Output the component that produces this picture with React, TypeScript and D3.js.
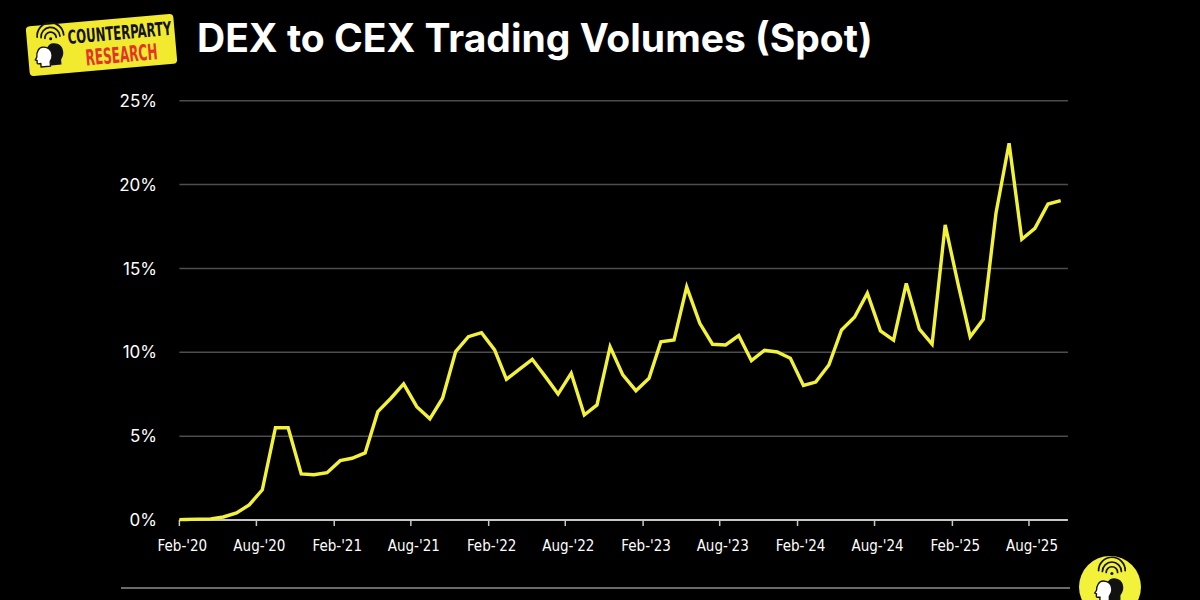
import React, { useEffect } from "react";
import * as d3 from "d3";

// ---------- DATA ----------
const months: string[] = [
  "2020-01","2020-02","2020-03","2020-04","2020-05","2020-06","2020-07","2020-08","2020-09","2020-10","2020-11","2020-12",
  "2021-01","2021-02","2021-03","2021-04","2021-05","2021-06","2021-07","2021-08","2021-09","2021-10","2021-11","2021-12",
  "2022-01","2022-02","2022-03","2022-04","2022-05","2022-06","2022-07","2022-08","2022-09","2022-10","2022-11","2022-12",
  "2023-01","2023-02","2023-03","2023-04","2023-05","2023-06","2023-07","2023-08","2023-09","2023-10","2023-11","2023-12",
  "2024-01","2024-02","2024-03","2024-04","2024-05","2024-06","2024-07","2024-08","2024-09","2024-10","2024-11","2024-12",
  "2025-01","2025-02","2025-03","2025-04","2025-05","2025-06","2025-07","2025-08","2025-09","2025-10",
];

// DEX / CEX spot volume ratio, %
const dexToCex: number[] = [
  0.02, 0.03, 0.05, 0.07, 0.18, 0.42, 0.9, 1.8, 5.5, 5.5, 2.75, 2.7,
  2.82, 3.54, 3.68, 4.0, 6.46, 7.26, 8.12, 6.76, 6.03, 7.26, 10.04, 10.93,
  11.17, 10.14, 8.39, 9.0, 9.58, 8.55, 7.51, 8.75, 6.26, 6.86, 10.33, 8.65,
  7.71, 8.45, 10.63, 10.73, 13.9, 11.73, 10.48, 10.44, 11.0, 9.5, 10.12, 10.02,
  9.64, 8.02, 8.22, 9.24, 11.33, 12.1, 13.52, 11.28, 10.73, 14.11, 11.38, 10.49,
  17.59, 14.01, 10.93, 11.97, 18.29, 22.46, 16.74, 17.39, 18.84, 19.04,
];

const xTickDates: string[] = [
  "2020-02","2020-08","2021-02","2021-08","2022-02","2022-08",
  "2023-02","2023-08","2024-02","2024-08","2025-02","2025-08",
];
const xTickLabels: string[] = [
  "Feb-'20","Aug-'20","Feb-'21","Aug-'21","Feb-'22","Aug-'22",
  "Feb-'23","Aug-'23","Feb-'24","Aug-'24","Feb-'25","Aug-'25",
];
const yTicks: number[] = [0, 5, 10, 15, 20, 25];

const titleText = "DEX to CEX Trading Volumes (Spot)";

// ---------- HELPERS ----------
const parseMonth = (s: string, day: number) => {
  const [y, m] = s.split("-").map(Number);
  return new Date(y, m - 1, day);
};

const YELLOW = "#f3f23b";

function HeadsIcon({ transform }: { transform: string }) {
  const head =
    "M10 0 C16 0 20 4 20 10 C20 14 18 16 17 18 L17 23 L6 23 L6 19 L3 19 C2 19 1.6 18 1.8 17 L2 15 L0 14 L2 11 C2 5 5 0 10 0 Z";
  return (
    <g transform={transform}>
      <g fill="none" stroke="#111" strokeWidth={1.8} strokeLinecap="round">
        <path d="M16 11 A6 6 0 0 1 28 11" />
        <path d="M12 10 A10 10 0 0 1 32 10" />
        <path d="M8 9 A14 14 0 0 1 36 9" />
      </g>
      <circle cx={22} cy={12} r={1.6} fill="#111" />
      <path d={head} transform="translate(14,17)" fill="#111" />
      <path d={head} transform="translate(4,20) scale(0.9)" fill="#fff" stroke="#111" strokeWidth={1.6} />
    </g>
  );
}

export default function App() {
  useEffect(() => {
    document.body.style.margin = "0";
    document.body.style.background = "#000";
  }, []);

  const W = 1200;
  const H = 600;
  const left = 179.4;
  const right = 1067.9;
  const top = 100.7;
  const bottom = 520;

  const x = d3
    .scaleTime()
    .domain([new Date(2020, 1, 1), new Date(2025, 10, 1)])
    .range([left, right]);
  const y = d3.scaleLinear().domain([0, 25]).range([bottom, top]);

  const points = months.map((m, i) => ({ d: parseMonth(m, 15), v: dexToCex[i] }));
  const line = d3
    .line<{ d: Date; v: number }>()
    .x((p) => x(p.d))
    .y((p) => y(p.v));

  const yFmt = (v: number) => `${v}%`;

  return (
    <svg
      width={W}
      height={H}
      viewBox={`0 0 ${W} ${H}`}
      style={{ display: "block", background: "#000" }}
      fontFamily="Inter, 'Noto Sans', sans-serif"
    >
      <rect x={0} y={0} width={W} height={H} fill="#000" />

      {/* top-left logo */}
      <g transform="translate(101.5,45) rotate(-5)">
        <rect x={-74} y={-25} width={148} height={50} rx={4} fill="#f2ea2e" />
        <HeadsIcon transform="translate(-71,-22) scale(0.95)" />
        <text
          x={-33}
          y={-4}
          fontFamily="'Liberation Sans Narrow', 'DejaVu Sans Condensed', sans-serif"
          fontWeight={700}
          fontSize={19}
          fill="#111"
          textLength={104}
          lengthAdjust="spacingAndGlyphs"
        >
          COUNTERPARTY
        </text>
        <text
          x={-17}
          y={19}
          fontFamily="'Liberation Sans Narrow', 'DejaVu Sans Condensed', sans-serif"
          fontWeight={700}
          fontSize={22}
          fill="#e3342b"
          textLength={72}
          lengthAdjust="spacingAndGlyphs"
        >
          RESEARCH
        </text>
      </g>

      {/* title */}
      <text x={197} y={52} fill="#fff" fontWeight={700} fontSize={39}>
        {titleText}
      </text>

      {/* gridlines */}
      {yTicks
        .filter((t) => t > 0)
        .map((t) => (
          <line key={t} x1={left} x2={right} y1={y(t)} y2={y(t)} stroke="#4d4d4d" strokeWidth={1.5} />
        ))}

      {/* y labels */}
      {yTicks.map((t) => (
        <text
          key={"yl" + t}
          x={157}
          y={y(t)}
          dy="0.36em"
          textAnchor="end"
          fill="#fff"
          fontSize={17}
        >
          {yFmt(t)}
        </text>
      ))}

      {/* baseline + ticks */}
      <line x1={left} x2={right} y1={bottom} y2={bottom} stroke="#c8c8c8" strokeWidth={2} />
      {xTickDates.map((s, i) => {
        const px = x(parseMonth(s, 1));
        return (
          <g key={s}>
            <line x1={px} x2={px} y1={bottom} y2={bottom + 6} stroke="#c8c8c8" strokeWidth={1.5} />
            <text
              x={px + 3}
              y={551}
              textAnchor="middle"
              fill="#fff"
              fontSize={15}
              fontFamily="'Liberation Sans Narrow', 'DejaVu Sans Condensed', sans-serif"
            >
              {xTickLabels[i]}
            </text>
          </g>
        );
      })}

      {/* data line */}
      <defs>
        <clipPath id="plot-clip">
          <rect x={left} y={0} width={right - left} height={H} />
        </clipPath>
      </defs>
      <path
        d={line(points) || ""}
        fill="none"
        stroke={YELLOW}
        strokeWidth={3.4}
        strokeLinejoin="miter"
        clipPath="url(#plot-clip)"
      />

      {/* footer rule */}
      <line x1={121} x2={1070} y1={588} y2={588} stroke="#6a6a6a" strokeWidth={2} />

      {/* bottom-right badge */}
      <g>
        <circle cx={1110} cy={587} r={31} fill={YELLOW} />
        <HeadsIcon transform="translate(1091,562) scale(0.95)" />
      </g>
    </svg>
  );
}
